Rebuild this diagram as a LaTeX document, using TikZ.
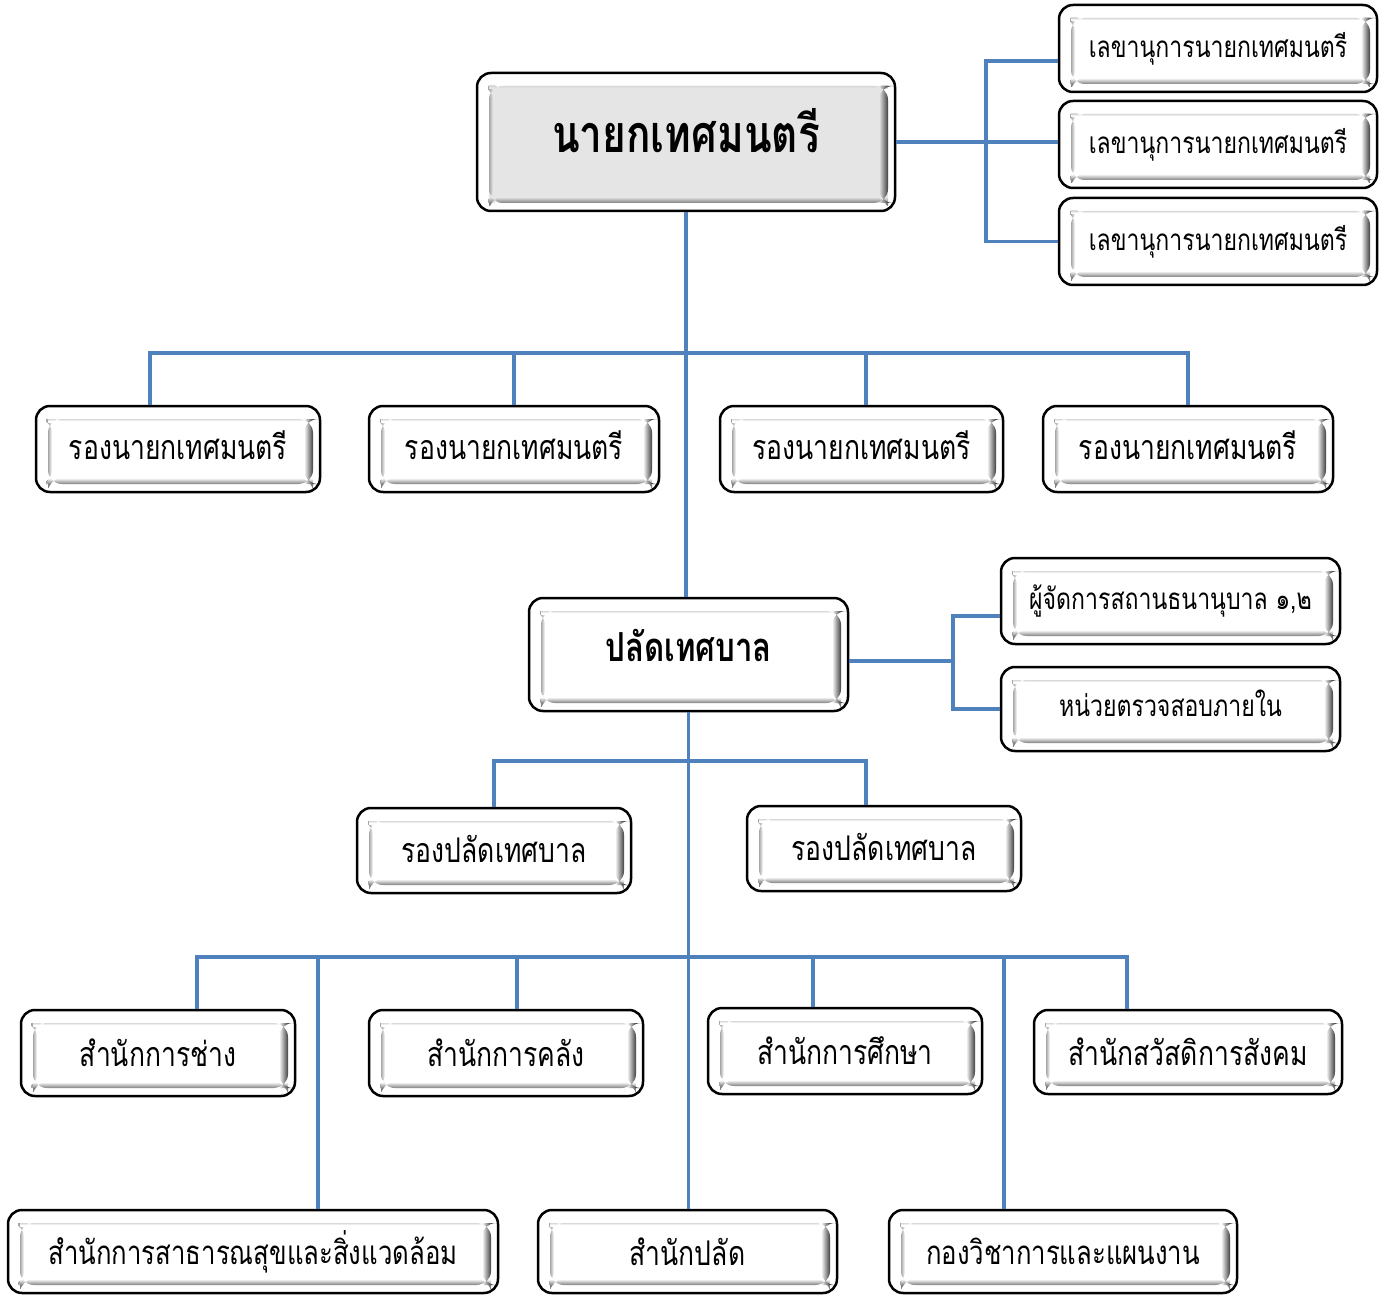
\documentclass[tikz,border=0pt]{standalone}
\usepackage{fontspec}
\setmainfont[Script=Thai,FakeStretch=0.78]{Loma}
\usetikzlibrary{calc}
\definecolor{lnblue}{HTML}{4F81BD}
\tikzset{
  bevel/.style={path picture={
    \coordinate (pNW) at ($(path picture bounding box.north west)+(12,13)$);
    \coordinate (pSE) at ($(path picture bounding box.south east)+(-7,-8)$);
    \fill[#1] (pNW) rectangle (pSE);
    \shade[left color=black!35, right color=#1] (pNW) rectangle ($(pNW |- pSE)+(4,0)$);
    \shade[top color=black!15, bottom color=#1] (pNW) rectangle ($(pNW -| pSE)+(0,2)$);
    \shade[top color=#1, bottom color=black!50] ($(pNW |- pSE)+(0,-6)$) rectangle (pSE);
    \shade[left color=#1, right color=black!75] ($(pNW -| pSE)+(-9,0)$) rectangle (pSE);
  }},
  box/.style={draw=black, line width=1.25pt, rounded corners=7pt, fill=white,
    inner sep=0pt, text=black, font=\fontsize{17}{20}\selectfont, bevel=#1},
  box/.default=white,
  small/.style={font=\fontsize{14.8}{18}\selectfont},
  mid/.style={font=\fontsize{16.5}{20}\selectfont},
  conn/.style={draw=lnblue, line width=1.6pt},
}
% \obox[options]{x1}{y1}{x2}{y2}{name}{text}
\newcommand\obox[7][]{%
  \pgfmathsetmacro\obw{0.5*(#4-#2)}%
  \pgfmathsetmacro\obh{0.5*(#5-#3)}%
  \node[box,#1,minimum width=\obw pt,minimum height=\obh pt] (#6) at ({(#2+#4)/2},{(#3+#5)/2}) {#7};}
\begin{document}
\begin{tikzpicture}[x=0.5pt,y=-0.5pt]
\useasboundingbox (0,0) rectangle (1389,1295);
\coordinate (j1) at (986,142);
\coordinate (h1) at (686,353);
\coordinate (j2) at (953,661);
\coordinate (h2) at (687,761);
\coordinate (h3) at (687,957);

% boxes
\obox[box=black!10, font=\fontsize{26}{30}\selectfont\bfseries, text depth=12pt]{477}{73}{895}{211}{mayor}{นายกเทศมนตรี}
\obox[small]{1059}{5}{1377}{92}{sec1}{เลขานุการนายกเทศมนตรี}
\obox[small]{1059}{101}{1377}{188}{sec2}{เลขานุการนายกเทศมนตรี}
\obox[small]{1059}{198}{1377}{285}{sec3}{เลขานุการนายกเทศมนตรี}

\obox[text depth=4pt]{36}{406}{320}{492}{dep1}{รองนายกเทศมนตรี}
\obox[text depth=4pt]{369}{406}{659}{492}{dep2}{รองนายกเทศมนตรี}
\obox[text depth=4pt]{720}{406}{1003}{492}{dep3}{รองนายกเทศมนตรี}
\obox[text depth=4pt]{1043}{406}{1333}{492}{dep4}{รองนายกเทศมนตรี}

\obox[font=\fontsize{20}{24}\selectfont\bfseries, text depth=9pt]{529}{598}{848}{711}{clerk}{ปลัดเทศบาล}
\obox[small]{1001}{558}{1340}{644}{nurs}{ผู้จัดการสถานธนานุบาล ๑,๒}
\obox[small, text depth=6pt]{1001}{667}{1340}{751}{audit}{หน่วยตรวจสอบภายใน}

\obox[text depth=2pt]{357}{808}{631}{893}{dc1}{รองปลัดเทศบาล}
\obox[text depth=2pt]{747}{806}{1021}{891}{dc2}{รองปลัดเทศบาล}

\obox{21}{1010}{295}{1096}{r1}{สำนักการช่าง}
\obox{369}{1010}{643}{1096}{r2}{สำนักการคลัง}
\obox{708}{1008}{982}{1094}{r3}{สำนักการศึกษา}
\obox{1034}{1010}{1342}{1094}{r4}{สำนักสวัสดิการสังคม}

\obox[mid]{8}{1210}{498}{1293}{b1}{สำนักการสาธารณสุขและสิ่งแวดล้อม}
\obox{538}{1210}{837}{1293}{b2}{สำนักปลัด}
\obox[mid]{889}{1210}{1237}{1293}{b3}{กองวิชาการและแผนงาน}

% connectors
\draw[conn] (mayor.east) -- (j1);
\draw[conn] ($(sec1.west)+(0,12.5)$) -| (j1) |- (sec3.west);
\draw[conn] (j1) -- (j1 -| sec2.west);
\draw[conn] (mayor.south) -- (mayor.south |- clerk.north);
\draw[conn] ($(dep1.north)+(-28,0)$) |- (h1) -| (dep4.north);
\draw[conn] (dep2.north) |- (h1);
\draw[conn] ($(dep3.north)+(4.5,0)$) |- (h1);

\draw[conn] ($(clerk.east)+(0,6.5)$) -- (j2);
\draw[conn] ($(nurs.west)+(0,15)$) -| (j2) |- (audit.west);
\draw[conn] (clerk.south) -- (clerk.south |- b2.north);
\draw[conn] (dc1.north) |- (h2) -| ($(dc2.north)+(-18,0)$);

\draw[conn] ($(r1.north)+(39,0)$) |- (h3) -| ($(r4.north)+(-61,0)$);
\draw[conn] ($(r2.north)+(11,0)$) |- (h3);
\draw[conn] ($(r3.north)+(-32,0)$) |- (h3);
\draw[conn] ($(b1.north)+(65,0)$) |- (h3);
\draw[conn] ($(b3.north)+(-59,0)$) |- (h3);
\end{tikzpicture}
\end{document}
